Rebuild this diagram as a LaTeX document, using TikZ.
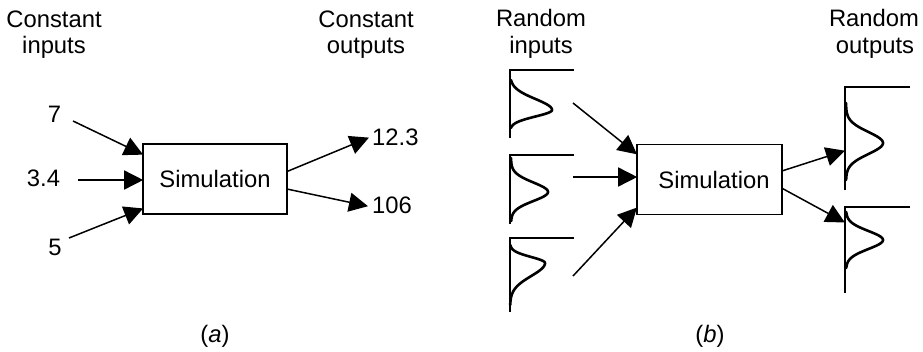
\documentclass[tikz,border=0pt]{standalone}
\usepackage{fontspec}
\setmainfont{Liberation Sans}
\usetikzlibrary{arrows.meta,calc}

\tikzset{
  lbl/.style={inner sep=0pt, font=\fontsize{23.8}{27}\selectfont},
  heading/.style={lbl, align=center, anchor=base},
  simbox/.style={draw, line width=1.6pt, minimum width=144pt, minimum height=70pt,
    inner sep=0pt, font=\fontsize{23.8}{27}\selectfont},
  flow/.style={line width=1.5pt, -{Triangle[length=19pt,width=19pt]}, shorten >=-1pt},
  frame/.style={line width=1.5pt},
  density/.style={line width=2.6pt, line join=round, line cap=round},
}

% a probability density drawn sideways: base x, peak offset, peak y,
% spread above and below the peak, and the y range of the curve
\newcommand{\sidecurve}[7]{%
  \draw[density] plot[domain=#6:#7, samples=80, variable=\t]
    ({#1+#2*exp(-0.5*((\t-#3)/((\t<#3)?#4:#5))^2)}, \t);}

\begin{document}
\begin{tikzpicture}[x=1pt, y=-1pt]
\useasboundingbox (0,0) rectangle (923,351);

%% ---------------- (a) constant inputs and outputs ----------------
\node[heading] (hinA) at (54,27.3) {Constant};
\node[heading] (hinA2) at (54,53.3) {inputs};
\node[heading] (houtA) at (366,27.3) {Constant};
\node[heading] (houtA2) at (366,53.3) {outputs};

\node[simbox] (simA) at (215,179) {Simulation};

\node[lbl, anchor=base] (v7) at (54.5,122.7) {7};
\node[lbl, anchor=base] (v34) at (43.5,186) {3.4};
\node[lbl, anchor=base] (v5) at (55,255) {5};
\node[lbl, anchor=base west] (v123) at (372,145) {12.3};
\node[lbl, anchor=base west] (v106) at (372,213) {106};

\coordinate (s7) at (73,121);
\coordinate (s34) at (78,180);
\coordinate (s5) at (69,238);
\coordinate (t123) at (368,138);
\coordinate (t106) at (367,206);
\draw[flow] (s7) -- ($(simA.north west)+(0,11)$);
\draw[flow] (s34) -- (simA.west |- s34);
\draw[flow] (s5) -- ($(simA.south west)+(0,-6)$);
\draw[flow] ($(simA.north east)+(0,28)$) -- (t123);
\draw[flow] ($(simA.north east)+(0,46)$) -- (t106);

\node[lbl, anchor=base] (capA) at (215,342) {(\textit{a})};

%% ---------------- (b) random inputs and outputs ----------------
\node[heading] (hinB) at (541,26.7) {Random};
\node[heading] (hinB2) at (541,53) {inputs};
\node[heading] (houtB) at (874,26.7) {Random};
\node[heading] (houtB2) at (875,53) {outputs};

\node[simbox, minimum width=145pt] (simB) at (709.5,179.5) {\hspace*{9pt}Simulation};

% input densities
\draw[frame] (574,70) -- (510,70) -- (510,138);
\sidecurve{510}{42}{110}{11}{6.5}{80}{128}
\draw[frame] (574,155) -- (510,155) -- (510,224);
\sidecurve{511}{37}{192}{9.5}{9}{158}{221}
\draw[frame] (574,238) -- (510,238) -- (510,312);
\sidecurve{510}{35}{263}{6}{13}{245}{305}

% output densities
\draw[frame] (910,87) -- (845,87) -- (845,190);
\sidecurve{846}{37}{143}{11}{11}{103}{180}
\draw[frame] (910,207) -- (845,207) -- (845,293);
\sidecurve{846}{37}{240}{9}{9}{212}{268}

\coordinate (r1) at (573,103);
\coordinate (r2) at (573,177);
\coordinate (r3) at (573,276);
\draw[flow] (r1) -- ($(simB.north west)+(0,10)$);
\draw[flow] (r2) -- (simB.west |- r2);
\draw[flow] (r3) -- ($(simB.south west)+(0,-7)$);
\draw[flow] ($(simB.north east)+(0,27)$) -- (844,151);
\draw[flow] ($(simB.north east)+(0,45)$) -- (844,222);

\node[lbl, anchor=base] (capB) at (710,342) {(\textit{b})};
\end{tikzpicture}
\end{document}
